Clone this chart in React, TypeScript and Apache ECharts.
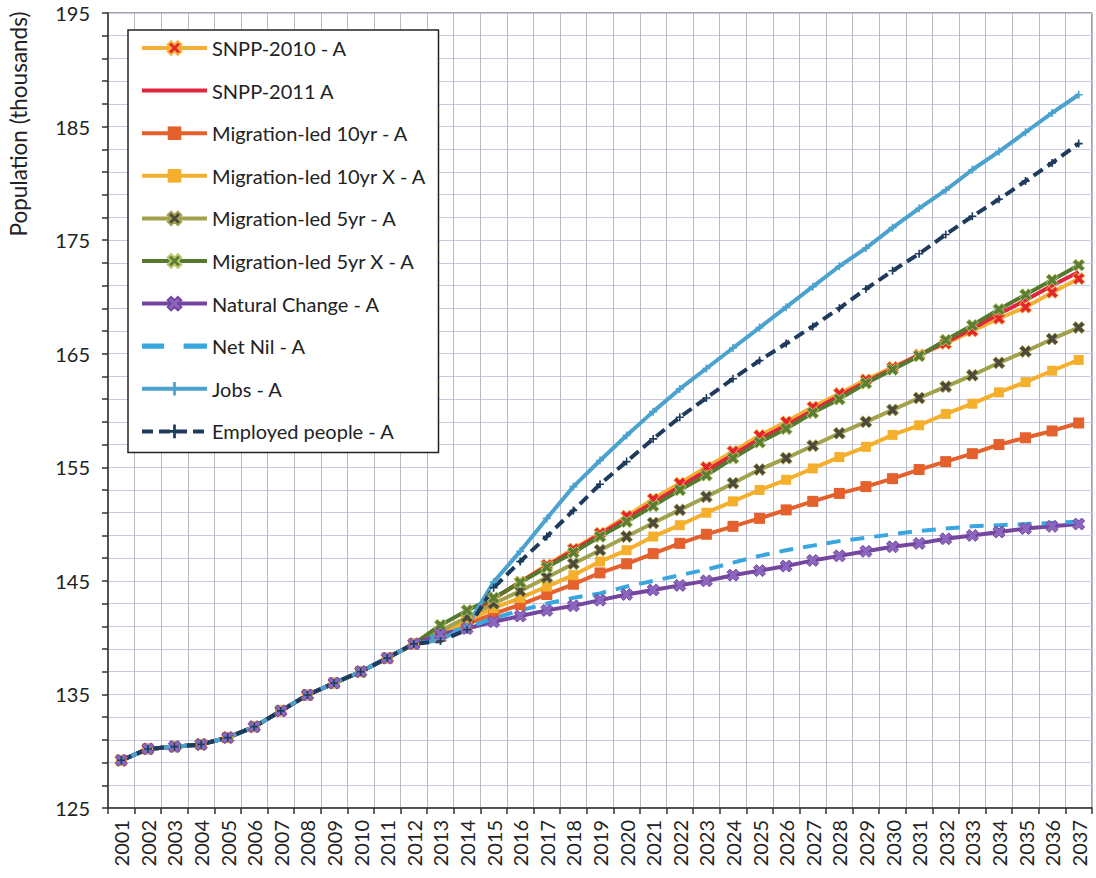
import React, { useEffect, useRef } from "react";
import * as echarts from "echarts";

const years = [
  "2001", "2002", "2003", "2004", "2005", "2006", "2007", "2008", "2009", "2010",
  "2011", "2012", "2013", "2014", "2015", "2016", "2017", "2018", "2019", "2020",
  "2021", "2022", "2023", "2024", "2025", "2026", "2027", "2028", "2029", "2030",
  "2031", "2032", "2033", "2034", "2035", "2036", "2037",
];

// 2001-2012, shared by every scenario
const history = [129.2, 130.2, 130.4, 130.6, 131.2, 132.15, 133.55, 134.95, 136.0, 137.0, 138.2, 139.45];

// 2013-2037 projections
const snpp2010 = [140.3, 141.6, 143.4, 144.9, 146.4, 147.8, 149.2, 150.7, 152.2, 153.6, 155.0, 156.4, 157.8, 159.0, 160.3, 161.5, 162.7, 163.8, 164.9, 165.9, 167.0, 168.1, 169.1, 170.4, 171.6];
const snpp2011 = [140.3, 141.5, 143.45, 144.9, 146.3, 147.7, 149.1, 150.5, 151.9, 153.3, 154.7, 156.1, 157.5, 158.7, 160.0, 161.3, 162.5, 163.7, 164.9, 166.0, 167.2, 168.5, 169.7, 171.0, 172.2];
const mig10 = [140.1, 141.2, 142.1, 142.9, 143.8, 144.7, 145.7, 146.5, 147.4, 148.3, 149.1, 149.8, 150.5, 151.25, 152.0, 152.7, 153.3, 154.0, 154.8, 155.5, 156.2, 157.0, 157.6, 158.2, 158.9];
const mig10X = [140.2, 141.5, 142.6, 143.5, 144.5, 145.5, 146.7, 147.7, 148.9, 149.9, 151.0, 152.0, 153.0, 153.9, 154.9, 155.9, 156.8, 157.85, 158.7, 159.7, 160.6, 161.6, 162.5, 163.5, 164.45];
const mig5 = [140.6, 141.8, 143.0, 144.1, 145.3, 146.5, 147.7, 148.9, 150.1, 151.25, 152.4, 153.6, 154.8, 155.8, 156.9, 158.0, 159.0, 160.05, 161.1, 162.1, 163.1, 164.2, 165.2, 166.3, 167.3];
const mig5X = [141.1, 142.4, 143.5, 144.85, 146.2, 147.5, 148.9, 150.2, 151.6, 153.0, 154.3, 155.8, 157.2, 158.4, 159.8, 161.0, 162.4, 163.6, 164.8, 166.2, 167.5, 168.9, 170.2, 171.5, 172.8];
const natural = [140.3, 140.8, 141.4, 141.9, 142.4, 142.8, 143.3, 143.8, 144.2, 144.6, 145.0, 145.5, 145.9, 146.3, 146.8, 147.2, 147.6, 148.0, 148.3, 148.7, 149.0, 149.3, 149.6, 149.8, 150.0];
const netNil = [140.3, 140.9, 141.7, 142.4, 143.0, 143.5, 143.9, 144.5, 145.0, 145.5, 146.0, 146.6, 147.2, 147.7, 148.1, 148.5, 148.8, 149.1, 149.4, 149.6, 149.8, 149.9, 150.0, 150.1, 150.2];
const jobs = [139.8, 141.0, 144.9, 147.6, 150.5, 153.3, 155.6, 157.8, 159.9, 161.9, 163.7, 165.5, 167.3, 169.1, 170.9, 172.7, 174.3, 176.1, 177.8, 179.4, 181.2, 182.8, 184.5, 186.2, 187.8];
const employed = [139.7, 140.7, 144.4, 146.7, 148.9, 151.2, 153.5, 155.5, 157.5, 159.4, 161.1, 162.8, 164.4, 165.9, 167.4, 169.0, 170.7, 172.3, 173.8, 175.5, 177.1, 178.6, 180.2, 181.8, 183.5];

const yTickLabels = [125, 135, 145, 155, 165, 175, 185, 195];

const X_SYM = "path://M0,3 L3,0 L6,3 L9,0 L12,3 L9,6 L12,9 L9,12 L6,9 L3,12 L0,9 L3,6 Z";
const PLUS_SYM = "path://M4,0 L6,0 L6,4 L10,4 L10,6 L6,6 L6,10 L4,10 L4,6 L0,6 L0,4 L4,4 Z";
const LINE_ICON = "path://M0,0 L65,0 L65,4 L0,4 Z";
const DASH_ICON = "path://M0,0 L17,0 L17,4 L0,4 Z M32,0 L50,0 L50,4 L32,4 Z";

const FONT = "Lato, 'Open Sans', sans-serif";

function mk(
  name: string,
  proj: number[],
  color: string,
  opts: {
    symbol?: string;
    symbolSize?: number;
    markerFill?: string;
    markerBorder?: string;
    dash?: number[];
    width?: number;
  }
) {
  const hasSym = !!opts.symbol;
  return {
    name,
    type: "line",
    data: history.concat(proj),
    symbol: opts.symbol || "none",
    showSymbol: hasSym,
    symbolSize: opts.symbolSize || 10,
    lineStyle: { color, width: opts.width || 4, type: opts.dash || "solid" },
    itemStyle: {
      color: opts.markerFill || color,
      borderColor: opts.markerBorder || opts.markerFill || color,
      borderWidth: opts.markerBorder ? 1 : 0,
    },
    emphasis: { disabled: true },
    z: 2,
  };
}

export default function App() {
  const ref = useRef<HTMLDivElement>(null);
  useEffect(() => {
    if (!ref.current) return;
    const chart = echarts.init(ref.current, undefined, { renderer: "svg" });
    const series = [
      mk("SNPP-2010 - A", snpp2010, "#F3B032", { symbol: X_SYM, symbolSize: 12, markerFill: "#E5252E", markerBorder: "#F3B032" }),
      mk("SNPP-2011 A", snpp2011, "#E0263F", {}),
      mk("Migration-led 10yr - A", mig10, "#E4612E", { symbol: "rect", symbolSize: 11 }),
      mk("Migration-led 10yr X - A", mig10X, "#F4B02C", { symbol: "rect", symbolSize: 10 }),
      mk("Migration-led 5yr - A", mig5, "#A3A24C", { symbol: X_SYM, symbolSize: 12, markerFill: "#4D4A3C", markerBorder: "#A3A24C" }),
      mk("Migration-led 5yr X - A", mig5X, "#557A2E", { symbol: X_SYM, symbolSize: 12, markerFill: "#5C7D33", markerBorder: "#B4C86A" }),
      mk("Natural Change - A", natural, "#7546A0", { symbol: X_SYM, symbolSize: 12, markerFill: "#8B66BE", markerBorder: "#7546A0" }),
      mk("Net Nil - A", netNil, "#3AA6DF", { dash: [14, 10], width: 4 }),
      mk("Jobs - A", jobs, "#4BA2CE", { symbol: PLUS_SYM, symbolSize: 8 }),
      mk("Employed people - A", employed, "#1E3A5C", { symbol: PLUS_SYM, symbolSize: 8, dash: [11, 6] }),
    ];
    const legendData = series.map((s) => {
      if (s.name === "SNPP-2011 A") return { name: s.name, icon: LINE_ICON };
      if (s.name === "Net Nil - A") return { name: s.name, icon: DASH_ICON };
      return { name: s.name };
    });
    chart.setOption({
      animation: false,
      backgroundColor: "#ffffff",
      textStyle: { fontFamily: FONT },
      grid: {
        left: 108,
        right: 4,
        top: 13,
        bottom: 70,
        show: true,
        borderColor: "#444",
        borderWidth: 1,
        backgroundColor: "transparent",
      },
      legend: {
        orient: "vertical",
        left: 128,
        top: 30,
        itemWidth: 65,
        itemHeight: 17,
        itemGap: 22.6,
        padding: [8, 12, 11, 12],
        backgroundColor: "#ffffff",
        borderColor: "#222",
        borderWidth: 1.5,
        selectedMode: false,
        lineStyle: { width: 4 },
        textStyle: { fontSize: 20, color: "#222", fontFamily: FONT },
        data: legendData,
        z: 10,
      },
      xAxis: {
        type: "category",
        data: years,
        boundaryGap: true,
        axisLine: { show: true, lineStyle: { color: "#333", width: 1.5 } },
        axisTick: { show: true, length: 6, interval: 0, lineStyle: { color: "#333", width: 1.5 } },
        axisLabel: {
          interval: 0,
          rotate: 90,
          fontSize: 20,
          color: "#222",
          margin: 12,
          fontFamily: FONT,
        },
        splitLine: { show: true, interval: 0, lineStyle: { color: "#b9bcc6", width: 1 } },
      },
      yAxis: {
        type: "value",
        min: 125,
        max: 195,
        interval: 2,
        axisLine: { show: true, lineStyle: { color: "#333", width: 1.5 } },
        axisTick: { show: true, length: 6, lineStyle: { color: "#333", width: 1.5 } },
        axisLabel: {
          fontSize: 20,
          color: "#222",
          margin: 18,
          fontFamily: FONT,
          formatter: (v: number) => (yTickLabels.indexOf(Math.round(v)) >= 0 ? String(Math.round(v)) : ""),
        },
        splitLine: { show: true, lineStyle: { color: "#c8cbe3", width: 1 } },
      },
      graphic: [
        {
          type: "text",
          x: 18,
          y: 124,
          rotation: Math.PI / 2,
          style: {
            text: "Population (thousands)",
            fontSize: 22.5,
            fontFamily: FONT,
            fill: "#222",
            textAlign: "center",
            textVerticalAlign: "middle",
          },
        },
      ],
      series,
    });
    return () => chart.dispose();
  }, []);
  return (
    <div
      ref={ref}
      style={{ position: "fixed", left: 0, top: 0, width: 1096, height: 878, background: "#fff" }}
    />
  );
}
